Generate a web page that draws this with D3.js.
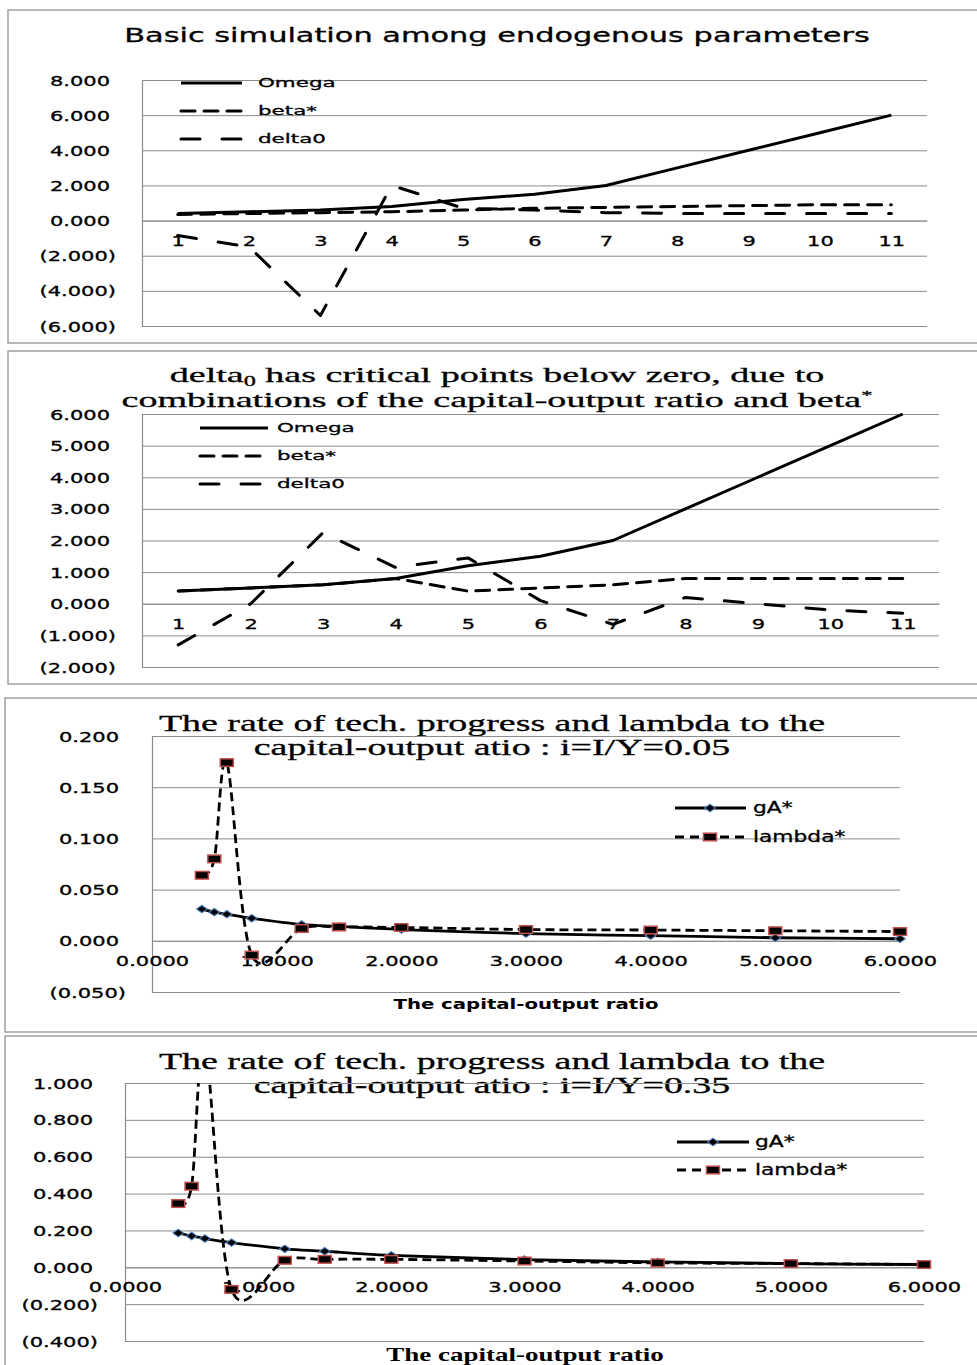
<!DOCTYPE html>
<html>
<head>
<meta charset="utf-8">
<script src="https://cdn.jsdelivr.net/npm/d3@7"></script>
<style>
  body { margin: 0; background: #fff; }
  svg { display: block; background: #fff; }
</style>
</head>
<body>
<svg id="chart" width="977" height="1365"></svg>
<script>
// ---- data -------------------------------------------------------------
const categories = ["1", "2", "3", "4", "5", "6", "7", "8", "9", "10", "11"];
const omega = [0.4, 0.5, 0.6, 0.8, 1.2, 1.5, 2.0, 3.0, 4.0, 5.0, 6.0];

// basic simulation
const betaBasic = [0.35, 0.4, 0.45, 0.5, 0.6, 0.7, 0.75, 0.8, 0.85, 0.9, 0.9];
const deltaBasic = [-0.85, -1.5, -5.4, 2.0, 0.7, 0.6, 0.45, 0.4, 0.4, 0.4, 0.4];

// critical points scenario
const betaCritical = [0.4, 0.5, 0.6, 0.8, 0.4, 0.5, 0.6, 0.8, 0.8, 0.8, 0.8];
const deltaCritical = [-1.3, 0.0, 2.25, 1.15, 1.45, 0.1, -0.65, 0.2, 0.0, -0.2, -0.3];

// capital-output ratio (x values of the scatter charts)
const capitalOutput = [0.4, 0.5, 0.6, 0.8, 1.2, 1.5, 2.0, 3.0, 4.0, 5.0, 6.0];
// i = I/Y = 0.05
const gA05 = [0.031, 0.028, 0.026, 0.022, 0.016, 0.014, 0.011, 0.007, 0.005, 0.003, 0.002];
const lambda05 = [0.064, 0.080, 0.174, -0.014, 0.012, 0.0135, 0.013, 0.011, 0.0105, 0.0098, 0.009];
// i = I/Y = 0.35
const gA35 = [0.186, 0.170, 0.156, 0.134, 0.100, 0.087, 0.065, 0.042, 0.029, 0.020, 0.015];
const lambda35 = [0.346, 0.44, 1.2, -0.12, 0.038, 0.043, 0.043, 0.034, 0.024, 0.020, 0.015];

// axis ticks
const ticksBasic = [8, 6, 4, 2, 0, -2, -4, -6];
const ticksCritical = [6, 5, 4, 3, 2, 1, 0, -1, -2];
const ticks05 = [0.2, 0.15, 0.1, 0.05, 0, -0.05];
const ticks35 = [1.0, 0.8, 0.6, 0.4, 0.2, 0, -0.2, -0.4];
const ticksRatio = [0, 1, 2, 3, 4, 5, 6];

const lineSeriesNames = ["Omega", "beta*", "delta0"];
const scatterSeriesNames = ["gA*", "lambda*"];

// ---- styling ----------------------------------------------------------
const SANS = "'DejaVu Sans', Verdana, sans-serif";
const SERIF = "'Liberation Serif', 'Times New Roman', serif";
const GRID = "#8c8c8c";
const BORDER = "#a0a0a0";
const TICK_SX = 1.5;
const TEXT_STROKE = 0.3;
const lineStyles = [
  { dash: null, cap: "butt" },
  { dash: "14,9", cap: "round" },
  { dash: "19,22", cap: "round" }
];

const svg = d3.select("#chart");

const fmt3 = d3.format(".3f");
const fmtParen = d => (d < -1e-9 ? "(" + fmt3(-d) + ")" : fmt3(Math.abs(d)));
const fmt4 = d3.format(".4f");

function addText(g, x, y, o) {
  const t = g.append("text")
    .attr("transform", `translate(${x},${y}) scale(${o.sx},1)`)
    .attr("text-anchor", o.anchor || "middle")
    .attr("font-family", o.family)
    .attr("font-size", o.size)
    .attr("font-weight", o.weight || "normal")
    .attr("fill", "#000");
  if (o.heavy) t.attr("stroke", "#000").attr("stroke-width", TEXT_STROKE);
  if (o.central) t.attr("dominant-baseline", "central");
  if (o.text !== undefined) t.text(o.text);
  return t;
}

function frame(box) {
  svg.append("rect")
    .attr("x", box.x).attr("y", box.y)
    .attr("width", 1200).attr("height", box.h)
    .attr("fill", "none").attr("stroke", BORDER).attr("stroke-width", 1.5);
}

function yAxis(g, y, p, ticks, posEnd, negEnd) {
  const ya = g.append("g")
    .attr("transform", `translate(${p.l},0)`)
    .call(d3.axisLeft(y).tickValues(ticks).tickSize(-(p.r - p.l)).tickSizeOuter(0).tickFormat(fmtParen));
  ya.attr("font-family", SANS).attr("font-size", 14);
  ya.selectAll(".tick line").attr("stroke", GRID).attr("stroke-width", 1);
  ya.select(".domain").attr("stroke", GRID).attr("stroke-width", 1.2);
  ya.selectAll(".tick text")
    .attr("x", null).attr("dy", null)
    .attr("fill", "#000")
    .attr("stroke", "#000").attr("stroke-width", TEXT_STROKE)
    .attr("dominant-baseline", "central")
    .attr("transform", d => `translate(${(d < -1e-9 ? negEnd : posEnd) - p.l},0) scale(${TICK_SX},1)`);
  return ya;
}

function xAxis(g, x, y, fmt, ticks) {
  let ax = d3.axisBottom(x).tickSize(0).tickSizeOuter(0);
  if (ticks) ax = ax.tickValues(ticks);
  if (fmt) ax = ax.tickFormat(fmt);
  const xa = g.append("g").attr("transform", `translate(0,${y(0)})`).call(ax);
  xa.attr("font-family", SANS).attr("font-size", 14);
  xa.select(".domain").attr("stroke", GRID).attr("stroke-width", 1);
  xa.selectAll(".tick text")
    .attr("y", null).attr("dy", null)
    .attr("fill", "#000")
    .attr("stroke", "#000").attr("stroke-width", TEXT_STROKE)
    .attr("dominant-baseline", "central")
    .attr("transform", `translate(0,20) scale(${TICK_SX},1)`);
  return xa;
}

// ---- line charts (categories 1..11) -----------------------------------
function lineChart(spec) {
  frame(spec.box);
  const g = svg.append("g");
  const p = spec.plot;
  const x = d3.scalePoint().domain(categories).range([p.l, p.r]).padding(0.5);
  const y = d3.scaleLinear().domain(spec.domain).range([p.b, p.t]);

  yAxis(g, y, p, spec.ticks, spec.posEnd, spec.negEnd);
  xAxis(g, x, y);

  spec.title(g);

  const line = d3.line().x((d, i) => x(categories[i])).y(d => y(d));
  spec.series.forEach((vals, k) => {
    g.append("path")
      .datum(vals)
      .attr("d", line)
      .attr("fill", "none")
      .attr("stroke", "#000")
      .attr("stroke-width", 3)
      .attr("stroke-linejoin", "round")
      .attr("stroke-linecap", lineStyles[k].cap)
      .attr("stroke-dasharray", lineStyles[k].dash);
  });

  // legend
  const lg = spec.legend;
  lineSeriesNames.forEach((name, k) => {
    g.append("line")
      .attr("x1", lg.x1).attr("x2", lg.x2)
      .attr("y1", lg.ys[k]).attr("y2", lg.ys[k])
      .attr("stroke", "#000").attr("stroke-width", 3)
      .attr("stroke-linecap", lineStyles[k].cap)
      .attr("stroke-dasharray", lineStyles[k].dash);
    addText(g, lg.tx, lg.ys[k], { text: name, family: SANS, size: 13, sx: 1.65, anchor: "start", central: true, heavy: true });
  });
}

lineChart({
  box: { x: 8, y: 10, h: 333 },
  plot: { l: 142, r: 927, t: 80, b: 326 },
  domain: [-6, 8],
  ticks: ticksBasic,
  posEnd: 110, negEnd: 116,
  series: [omega, betaBasic, deltaBasic],
  legend: { x1: 181, x2: 242, tx: 258, ys: [83, 111, 139] },
  title: g => addText(g, 497, 42, {
    text: "Basic simulation among endogenous parameters",
    family: SANS, size: 19, sx: 1.6, heavy: true
  })
});

lineChart({
  box: { x: 8, y: 351, h: 333 },
  plot: { l: 142, r: 939, t: 414, b: 667 },
  domain: [-2, 6],
  ticks: ticksCritical,
  posEnd: 110, negEnd: 116,
  series: [omega, betaCritical, deltaCritical],
  legend: { x1: 200, x2: 268, tx: 277, ys: [428, 456, 484] },
  title: g => {
    const t1 = addText(g, 497, 382, { family: SERIF, size: 22, sx: 1.73, heavy: true });
    t1.append("tspan").text("delta");
    t1.append("tspan").attr("font-size", 14).attr("dy", 4).text("0");
    t1.append("tspan").attr("dy", -4).text(" has critical points below zero, due to");
    const t2 = addText(g, 497, 407, { family: SERIF, size: 22, sx: 1.73, heavy: true });
    t2.append("tspan").text("combinations of the capital-output ratio and beta");
    t2.append("tspan").attr("font-size", 13).attr("dy", -8).text("*");
  }
});

// ---- scatter charts (smoothed lines with markers) ----------------------
function scatterChart(spec) {
  frame(spec.box);
  const g = svg.append("g");
  const p = spec.plot;
  const x = d3.scaleLinear().domain([0, 6]).range([p.l, p.r]);
  const y = d3.scaleLinear().domain(spec.domain).range([p.b, p.t]);

  spec.title(g);

  yAxis(g, y, p, spec.ticks, spec.posEnd, spec.negEnd);
  xAxis(g, x, y, fmt4, ticksRatio);

  spec.axisTitle(g);

  const clipId = "clip" + spec.id;
  g.append("clipPath").attr("id", clipId)
    .append("rect")
    .attr("x", p.l - 12).attr("y", p.t)
    .attr("width", p.r - p.l + 24).attr("height", p.b - p.t + 12);
  const plot = g.append("g").attr("clip-path", `url(#${clipId})`);

  const curve = d3.line()
    .x((d, i) => x(capitalOutput[i]))
    .y(d => y(d))
    .curve(d3.curveCardinal.tension(0));

  // gA* solid
  plot.append("path").datum(spec.gA).attr("d", curve)
    .attr("fill", "none").attr("stroke", "#000").attr("stroke-width", 2.8);
  // lambda* dashed
  plot.append("path").datum(spec.lambda).attr("d", curve)
    .attr("fill", "none").attr("stroke", "#000").attr("stroke-width", 2.8)
    .attr("stroke-dasharray", "9,5");

  const diamond = d3.symbol(d3.symbolDiamond2, 40);
  plot.selectAll("path.gmark").data(spec.gA).join("path")
    .attr("class", "gmark")
    .attr("d", diamond)
    .attr("transform", (d, i) => `translate(${x(capitalOutput[i])},${y(d)}) scale(1.35,0.95)`)
    .attr("fill", "#000").attr("stroke", "#4f81bd").attr("stroke-width", 1);

  plot.selectAll("rect.lmark").data(spec.lambda).join("rect")
    .attr("class", "lmark")
    .attr("x", (d, i) => x(capitalOutput[i]) - 6.5)
    .attr("y", d => y(d) - 3.8)
    .attr("width", 13).attr("height", 7.6)
    .attr("fill", "#000").attr("stroke", "#c0504d").attr("stroke-width", 1.5);

  // legend
  const lg = spec.legend;
  g.append("line").attr("x1", lg.x1).attr("x2", lg.x2).attr("y1", lg.ys[0]).attr("y2", lg.ys[0])
    .attr("stroke", "#000").attr("stroke-width", 2.8);
  g.append("path").attr("d", diamond)
    .attr("transform", `translate(${lg.mx},${lg.ys[0]}) scale(1.35,0.95)`)
    .attr("fill", "#000").attr("stroke", "#4f81bd").attr("stroke-width", 1);
  g.append("line").attr("x1", lg.x1).attr("x2", lg.x2).attr("y1", lg.ys[1]).attr("y2", lg.ys[1])
    .attr("stroke", "#000").attr("stroke-width", 2.8).attr("stroke-dasharray", "9,6");
  g.append("rect").attr("x", lg.mx - 6.5).attr("y", lg.ys[1] - 3.8)
    .attr("width", 13).attr("height", 7.6)
    .attr("fill", "#000").attr("stroke", "#c0504d").attr("stroke-width", 1.5);
  scatterSeriesNames.forEach((name, k) => {
    addText(g, lg.tx, lg.ys[k], { text: name, family: SANS, size: 15, sx: 1.45, anchor: "start", central: true, heavy: true });
  });
}

function scatterTitle(g, cx, y1, y2, rate) {
  addText(g, cx, y1, { text: "The rate of tech. progress and lambda to the", family: SERIF, size: 24, sx: 1.58, heavy: true });
  addText(g, cx, y2, { text: "capital-output atio : i=I/Y=" + rate, family: SERIF, size: 24, sx: 1.58, heavy: true });
}

scatterChart({
  id: "05",
  box: { x: 5, y: 698, h: 334 },
  plot: { l: 152, r: 900, t: 736, b: 992 },
  domain: [-0.05, 0.2],
  ticks: ticks05,
  posEnd: 119, negEnd: 126,
  gA: gA05, lambda: lambda05,
  legend: { x1: 675, x2: 746, mx: 710, tx: 753, ys: [808, 837] },
  title: g => scatterTitle(g, 492, 731, 755, "0.05"),
  axisTitle: g => addText(g, 526, 1004, {
    text: "The capital-output ratio", family: SANS, size: 13.5, weight: "bold", sx: 1.46, central: true
  })
});

scatterChart({
  id: "35",
  box: { x: 5, y: 1036, h: 400 },
  plot: { l: 125, r: 924, t: 1083, b: 1341 },
  domain: [-0.4, 1.0],
  ticks: ticks35,
  posEnd: 93, negEnd: 98,
  gA: gA35, lambda: lambda35,
  legend: { x1: 677, x2: 749, mx: 713, tx: 755, ys: [1142, 1170] },
  title: g => scatterTitle(g, 492, 1069, 1093, "0.35"),
  axisTitle: g => addText(g, 525, 1361, {
    text: "The capital-output ratio", family: SERIF, size: 18, weight: "bold", sx: 1.5
  })
});
</script>
</body>
</html>
